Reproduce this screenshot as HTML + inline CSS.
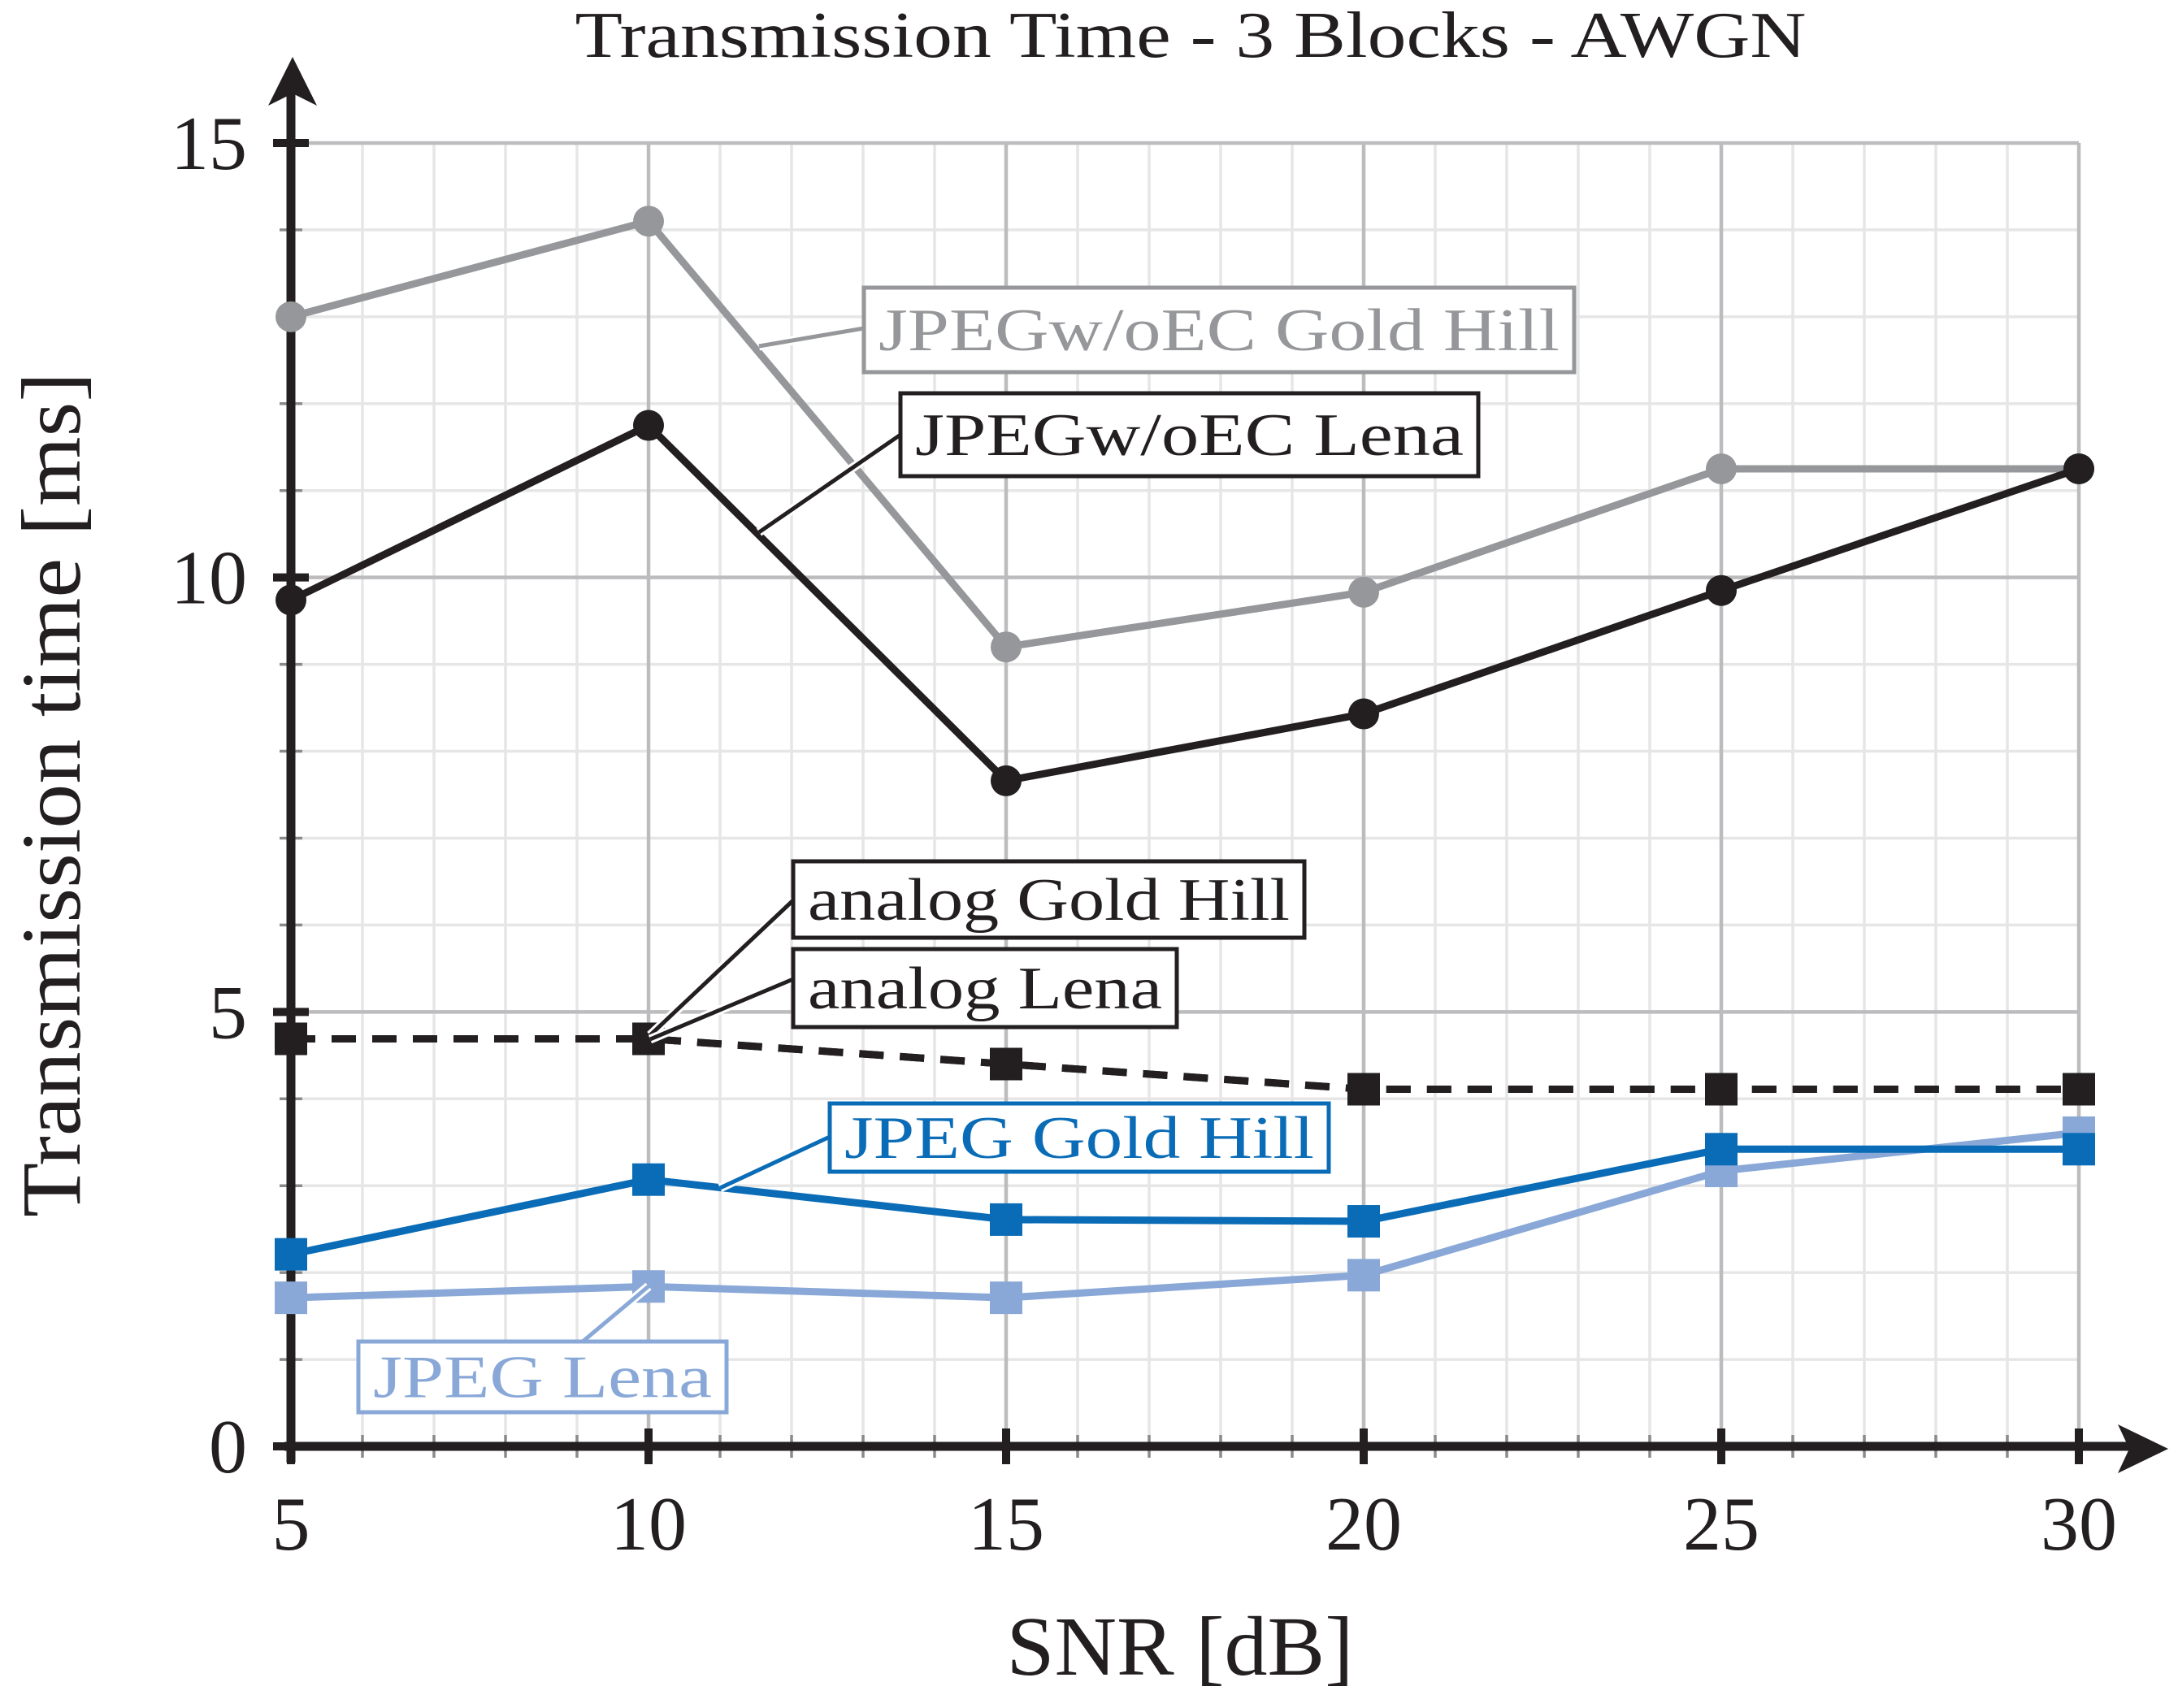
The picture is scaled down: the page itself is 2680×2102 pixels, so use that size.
<!DOCTYPE html>
<html><head><meta charset="utf-8"><style>
html,body{margin:0;padding:0;background:#fff;}
svg{display:block;font-family:"Liberation Serif",serif;}
</style></head><body>
<svg id="chart" width="2680" height="2102" viewBox="0 0 2680 2102" xmlns="http://www.w3.org/2000/svg">
<g id="grid"></g>
<g id="axes"></g>
<g id="series"></g>
<g id="labels"></g>
<text x="1465" y="70" font-size="80" text-anchor="middle" fill="#231f20" textLength="1515" lengthAdjust="spacingAndGlyphs">Transmission Time - 3 Blocks - AWGN</text>
<text x="1452" y="2061" font-size="104" text-anchor="middle" fill="#231f20" textLength="427" lengthAdjust="spacingAndGlyphs">SNR [dB]</text>
<text transform="translate(98,978) rotate(-90)" font-size="104" text-anchor="middle" fill="#231f20" textLength="1040" lengthAdjust="spacingAndGlyphs">Transmission time [ms]</text>
</svg>
<script>
const snr = [5, 10, 15, 20, 25, 30];
const goldHillNoEC = [13.0, 14.1, 9.2, 9.83, 11.25, 11.25];
const lenaNoEC = [9.74, 11.75, 7.66, 8.43, 9.85, 11.25];
const analogGoldHill = [4.69, 4.69, 4.4, 4.11, 4.11, 4.11];
const analogLena = [4.69, 4.69, 4.4, 4.11, 4.11, 4.11];
const jpegGoldHill = [2.21, 3.07, 2.61, 2.59, 3.42, 3.42];
const jpegLena = [1.71, 1.84, 1.71, 1.97, 3.17, 3.61];
const xTicks = [5, 10, 15, 20, 25, 30];
const yTicks = [0, 5, 10, 15];

const NS = 'http://www.w3.org/2000/svg';
const X0 = 358, X1 = 2558, Y0 = 1780, Y1 = 176;
function sx(v){ return X0 + (v - 5) / 25 * (X1 - X0); }
function sy(v){ return Y0 - v / 15 * (Y0 - Y1); }
function mk(tag, attrs, parent){
  const e = document.createElementNS(NS, tag);
  for (const k in attrs) e.setAttribute(k, attrs[k]);
  parent.appendChild(e);
  return e;
}
const grid = document.getElementById('grid');
const axes = document.getElementById('axes');
const series = document.getElementById('series');
const labels = document.getElementById('labels');

for (let v = 6; v < 30; v++) {
  if (v % 5 === 0) continue;
  const l = mk('line', {x1: sx(v), x2: sx(v), y1: Y1, y2: Y0, stroke: '#e6e6e6', 'stroke-width': 3.5}, grid);
  
  
  const t = mk('line', {x1: sx(v), x2: sx(v), y1: Y0 - 14, y2: Y0 + 14, stroke: '#8a8a8a', 'stroke-width': 3.5}, axes);
  
  
}
for (let v = 1; v < 15; v++) {
  if (v % 5 === 0) continue;
  const l = mk('line', {x1: X0, x2: X1, y1: sy(v), y2: sy(v), stroke: '#e6e6e6', 'stroke-width': 3.5}, grid);
  
  
  const t = mk('line', {x1: X0 - 14, x2: X0 + 14, y1: sy(v), y2: sy(v), stroke: '#8a8a8a', 'stroke-width': 3.5}, axes);
  
  
}
xTicks.forEach(v => {
  const l = mk('line', {x1: sx(v), x2: sx(v), y1: Y1, y2: Y0, stroke: '#bcbcbf', 'stroke-width': 4.5}, grid);
  
  
  const t = mk('line', {x1: sx(v), x2: sx(v), y1: Y0 - 22, y2: Y0 + 22, stroke: '#231f20', 'stroke-width': 10}, axes);
  
  
  const tx = mk('text', {x: sx(v), y: 1907, 'font-size': 94, 'text-anchor': 'middle', fill: '#231f20'}, axes);
  tx.textContent = v;
  
  
});
yTicks.forEach(v => {
  const l = mk('line', {x1: X0, x2: X1, y1: sy(v), y2: sy(v), stroke: '#bcbcbf', 'stroke-width': 4.5}, grid);
  
  
  const t = mk('line', {x1: X0 - 22, x2: X0 + 22, y1: sy(v), y2: sy(v), stroke: '#231f20', 'stroke-width': 10}, axes);
  
  
  const tx = mk('text', {x: 304, y: sy(v) + 32, 'font-size': 94, 'text-anchor': 'end', fill: '#231f20'}, axes);
  tx.textContent = v;
  
  
});
const xa = mk('line', {x1: 350, x2: 2630, y1: Y0, y2: Y0, stroke: '#231f20', 'stroke-width': 11}, axes);


const xarr = mk('path', {d: 'M2668 1783 L2606 1753 L2620 1783 L2606 1813 Z', fill: '#231f20'}, axes);


const ya = mk('line', {x1: X0, x2: X0, y1: 1800, y2: 110, stroke: '#231f20', 'stroke-width': 11}, axes);


const yarr = mk('path', {d: 'M360 70 L330 130 L360 115 L390 130 Z', fill: '#231f20'}, axes);



function drawSeries(vals, color, marker, name, dash){
  const g = mk('g', {}, series);
  
  
  const pts = vals.map((v, i) => sx(snr[i]) + ',' + sy(v)).join(' ');
  const pl = mk('polyline', {points: pts, fill: 'none', stroke: color, 'stroke-width': 9, 'stroke-linejoin': 'round'}, g);
  if (dash) pl.setAttribute('stroke-dasharray', dash);
  
  
  vals.forEach((v, i) => {
    let m;
    if (marker === 'circle') m = mk('circle', {cx: sx(snr[i]), cy: sy(v), r: 19, fill: color}, g);
    else m = mk('rect', {x: sx(snr[i]) - 20, y: sy(v) - 20, width: 40, height: 40, fill: color}, g);
    
    
  });
}
drawSeries(goldHillNoEC, '#96979a', 'circle', 'jpeg-woec-gold-hill-series');
drawSeries(lenaNoEC, '#231f20', 'circle', 'jpeg-woec-lena-series');
drawSeries(jpegLena, '#89a8d7', 'square', 'jpeg-lena-series');
drawSeries(jpegGoldHill, '#0a6cb6', 'square', 'jpeg-gold-hill-series');
drawSeries(analogGoldHill, '#231f20', 'square', 'analog-gold-hill-series', '30 20');
drawSeries(analogLena, '#231f20', 'square', 'analog-lena-series', '30 20');

const ann = [
  ['JPEGw/oEC Gold Hill', '#96979a', 1063, 354, 874, 104, 934, 426, 1063, 404, 'label-jpeg-woec-gold-hill'],
  ['JPEGw/oEC Lena', '#231f20', 1108, 484, 711, 102, 934, 655, 1108, 535, 'label-jpeg-woec-lena'],
  ['analog Gold Hill', '#231f20', 976, 1060, 629, 94, 800, 1274, 976, 1108, 'label-analog-gold-hill'],
  ['analog Lena', '#231f20', 976, 1168, 472, 96, 800, 1279, 976, 1205, 'label-analog-lena'],
  ['JPEG Gold Hill', '#0a6cb6', 1021, 1358, 614, 84, 886, 1462, 1021, 1399, 'label-jpeg-gold-hill'],
  ['JPEG Lena', '#89a8d7', 441, 1651, 453, 87, 798, 1583, 717, 1651, 'label-jpeg-lena']
];
ann.forEach(a => {
  const g = mk('g', {}, labels);
  
  
  mk('line', {x1: a[6], y1: a[7], x2: a[8], y2: a[9], stroke: '#fff', 'stroke-width': 11}, g);
  const p = mk('line', {x1: a[6], y1: a[7], x2: a[8], y2: a[9], stroke: a[1], 'stroke-width': 5}, g);
  
  
  const r = mk('rect', {x: a[2], y: a[3], width: a[4], height: a[5], fill: '#fff', stroke: a[1], 'stroke-width': 5}, g);
  
  
  const t = mk('text', {x: a[2] + 18, y: a[3] + a[5] / 2 + 25, 'font-size': 74, fill: a[1], textLength: a[4] - 36, lengthAdjust: 'spacingAndGlyphs'}, g);
  t.textContent = a[0];
  
  
});
</script>
</body></html>
